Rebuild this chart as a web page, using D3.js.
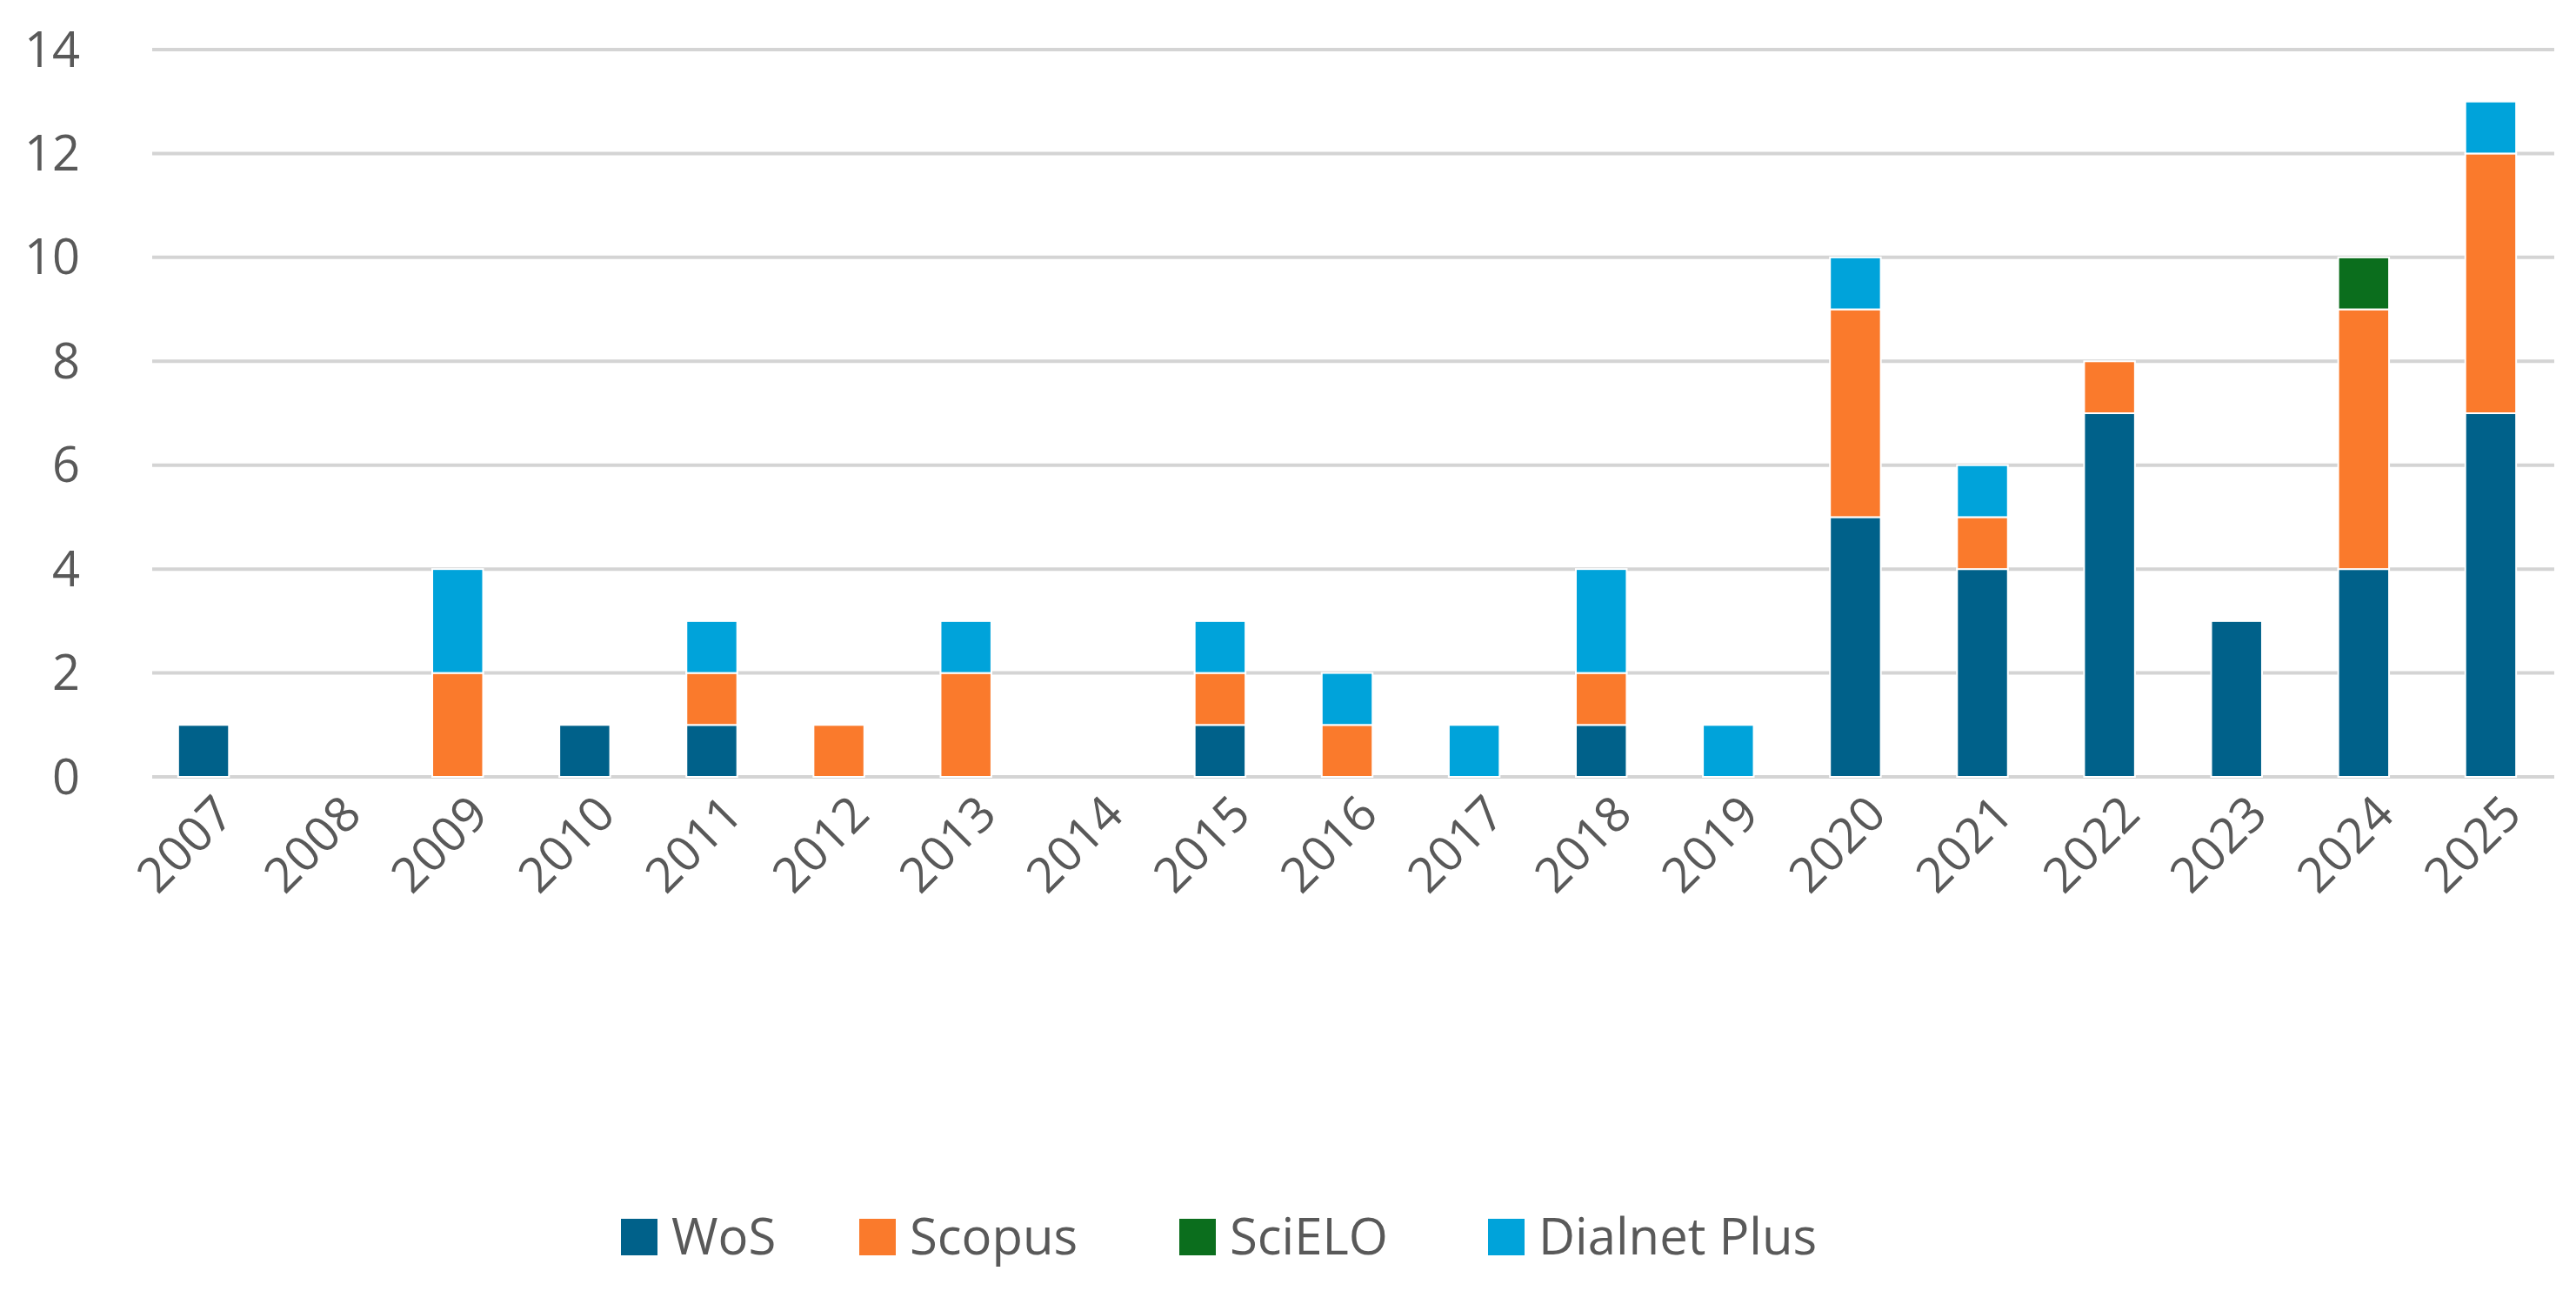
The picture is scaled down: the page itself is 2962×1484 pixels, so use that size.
<!DOCTYPE html>
<html lang="en">
<head>
<meta charset="UTF-8">
<title>Publications by year</title>
<script src="https://cdn.jsdelivr.net/npm/d3@7"></script>
<style>body{margin:0;background:#fff;} text{font-family:"Open Sans","Liberation Sans",sans-serif;fill:#595959;}</style>
</head>
<body>
<svg width="2962" height="1484"></svg>
<script>
var years = ["2007","2008","2009","2010","2011","2012","2013","2014","2015","2016","2017","2018","2019","2020","2021","2022","2023","2024","2025"];
var wos     = [1,0,0,1,1,0,0,0,1,0,0,1,0,5,4,7,3,4,7];
var scopus  = [0,0,2,0,1,1,2,0,1,1,0,1,0,4,1,1,0,5,5];
var scielo  = [0,0,0,0,0,0,0,0,0,0,0,0,0,0,0,0,0,1,0];
var dialnet = [0,0,2,0,1,0,1,0,1,1,1,2,1,1,1,0,0,0,1];
var seriesNames = ["WoS","Scopus","SciELO","Dialnet Plus"];
var colors = ["#00618a","#fa7a2c","#0b6e1d","#00a3da"];
var yTicks = [0,2,4,6,8,10,12,14];

var svg = d3.select("svg");
var rows = years.map(function(y,i){return {year:y,s0:wos[i],s1:scopus[i],s2:scielo[i],s3:dialnet[i]};});
var stack = d3.stack().keys(["s0","s1","s2","s3"])(rows);

var x = d3.scaleBand().domain(years).range([161,2937]).paddingInner(0.6).paddingOuter(0.3);
var y = d3.scaleLinear().domain([0,14]).range([893,57]);

// gridlines
svg.append("g").selectAll("line").data(yTicks).enter().append("line")
  .attr("x1",175).attr("x2",2937)
  .attr("y1",function(d){return y(d);}).attr("y2",function(d){return y(d);})
  .attr("stroke","#d4d4d4").attr("stroke-width",4);

// y labels
svg.append("g").selectAll("text").data(yTicks).enter().append("text")
  .attr("x",92).attr("y",function(d){return y(d);}).attr("dy","0.35em")
  .attr("text-anchor","end").attr("font-size",56).text(function(d){return d;});

// bars
svg.append("g").selectAll("g").data(stack).enter().append("g")
  .attr("fill",function(d,i){return colors[i];})
  .selectAll("rect").data(function(d){return d;}).enter().append("rect")
  .filter(function(d){return d[1]>d[0];})
  .attr("x",function(d){return x(d.data.year);})
  .attr("width",x.bandwidth())
  .attr("y",function(d){return y(d[1]);})
  .attr("height",function(d){return y(d[0])-y(d[1]);})
  .attr("stroke","#fff").attr("stroke-width",2);

// x labels
svg.append("g").selectAll("text").data(years).enter().append("text")
  .attr("transform",function(d){return "translate("+(x(d)+x.bandwidth()/2+24)+",925) rotate(-45)";})
  .attr("text-anchor","end").attr("dy","0.35em").attr("font-size",56).text(function(d){return d;});

// legend
var legX = [714,988,1356,1711];
var leg = svg.append("g").selectAll("g").data(seriesNames).enter().append("g")
  .attr("transform",function(d,i){return "translate("+legX[i]+",1422)";});
leg.append("rect").attr("x",0).attr("y",-21).attr("width",42).attr("height",42)
  .attr("fill",function(d,i){return colors[i];});
leg.append("text").attr("x",58).attr("dy","0.35em").attr("font-size",58).text(function(d){return d;});
</script>
</body>
</html>
